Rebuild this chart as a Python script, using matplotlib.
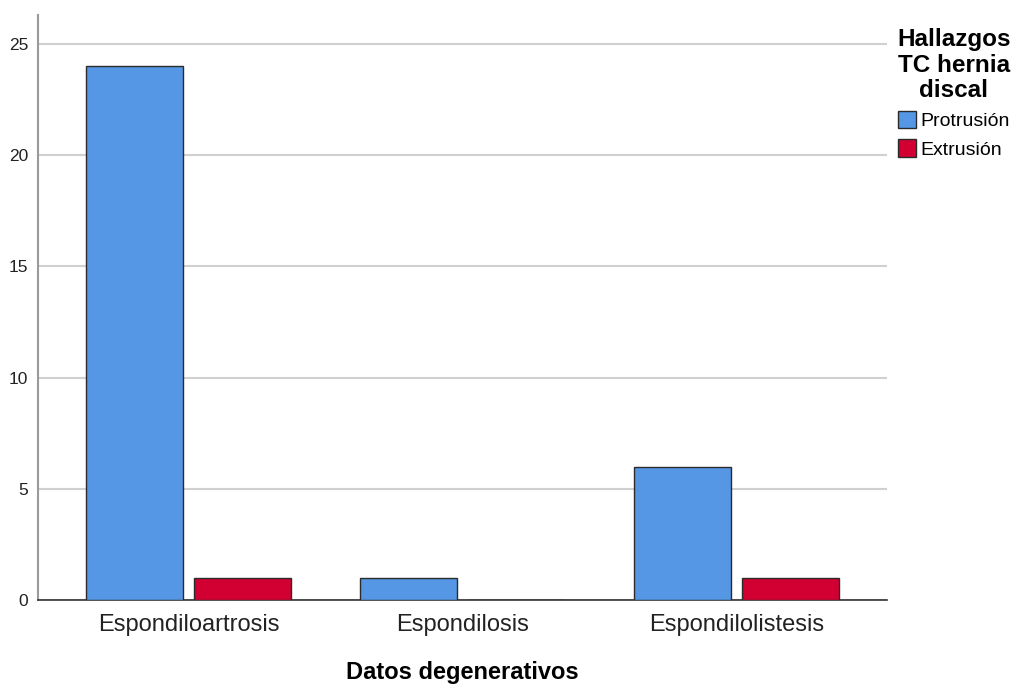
import numpy as np
import matplotlib.pyplot as plt

plt.rcParams['font.family'] = ['Liberation Sans', 'DejaVu Sans']

# Data
categories = ['Espondiloartrosis', 'Espondilosis', 'Espondilolistesis']
protrusion = [24, 1, 6]
extrusion = [1, 0, 1]
series_names = ['Protrusión', 'Extrusión']
yticks = [0, 5, 10, 15, 20, 25]

blue = '#5596E5'
red = '#D20032'

fig = plt.figure(figsize=(10.15, 6.84), dpi=100)
ax = fig.add_axes([0.0374, 0.1228, 0.8365, 0.8552])

x = np.arange(len(categories))
w = 0.354
off = 0.197
ax.bar(x - off, protrusion, width=w, color=blue, edgecolor='#2b2b2b', linewidth=1.0,
       label=series_names[0], zorder=3)
ax.bar(x + off, extrusion, width=w, color=red, edgecolor='#2b2b2b', linewidth=1.0,
       label=series_names[1], zorder=3)

ax.set_xlim(-0.55, 2.55)
ax.set_ylim(0, 26.3)
ax.set_yticks(yticks)
ax.set_xticks(x)
ax.set_xticklabels(categories, fontsize=17, color='#222222')
ax.tick_params(axis='y', labelsize=12.5, length=0, pad=7, colors='#222222')
ax.tick_params(axis='x', length=0, pad=10)

ax.yaxis.grid(True, color='#d0d0d0', linewidth=1.5, zorder=0)
ax.set_axisbelow(True)
for s in ['top', 'right']:
    ax.spines[s].set_visible(False)
ax.spines['left'].set_color('#9a9a9a')
ax.spines['left'].set_linewidth(1.5)
ax.spines['bottom'].set_color('#333333')
ax.spines['bottom'].set_linewidth(1.2)

ax.set_xlabel('Datos degenerativos', fontsize=17, fontweight='bold', labelpad=18)

leg = ax.legend(loc='upper left', bbox_to_anchor=(1.012, 0.978), frameon=False,
                title='Hallazgos\nTC hernia\ndiscal',
                title_fontproperties={'weight': 'bold', 'size': 17.5},
                fontsize=14, handlelength=0.9, handleheight=1.0,
                handletextpad=0.25, labelspacing=0.45, borderaxespad=0,
                borderpad=0)
leg.get_title().set_multialignment('center')
leg.get_title().set_linespacing(1.15)

fig.savefig('out.png', dpi=100)
